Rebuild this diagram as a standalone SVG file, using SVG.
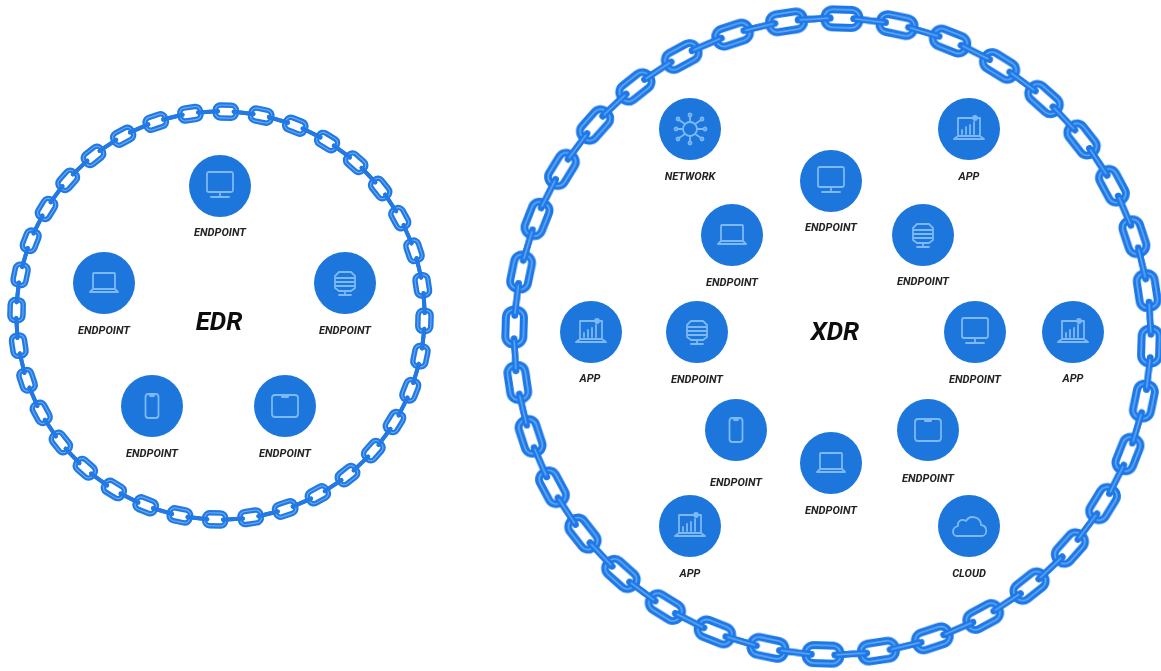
<svg xmlns="http://www.w3.org/2000/svg" width="1161" height="671" viewBox="0 0 1161 671">
<style>
.lo{fill:none;stroke:#1f78e6;stroke-width:8}
.li{fill:none;stroke:#62aaf6;stroke-width:1.600}
.lc{stroke:#1f78e6;stroke-width:6.500;stroke-linecap:round}
.lh{stroke:#62aaf6;stroke-width:1.500;stroke-linecap:round}
.eo{fill:none;stroke:#2279e4;stroke-width:5.500}
.ei{fill:none;stroke:#6aaef6;stroke-width:1.100}
.ec{stroke:#2279e4;stroke-width:4;stroke-linecap:round}
.disc{fill:#1a76dc}
.ic{fill:none;stroke:#7db8f8;stroke-width:1.800;stroke-linecap:round;stroke-linejoin:round}
text{font-family:Roboto,"Liberation Sans",sans-serif;font-weight:700;font-style:italic;text-anchor:middle}
.lb{font-size:11px;fill:#222}
.ti{font-size:26px;fill:#111}
</style>
<defs>
<filter id="soft" x="-5%" y="-5%" width="110%" height="110%"><feGaussianBlur stdDeviation="0.55"/></filter>
<filter id="soft2" x="-5%" y="-5%" width="110%" height="110%"><feGaussianBlur stdDeviation="0.35"/></filter>
<g id="L"><rect class="lo" x="-17.500" y="-9" width="35" height="18" rx="8"/><rect class="li" x="-17.500" y="-9" width="35" height="18" rx="8"/></g>
<g id="C"><line class="lc" x1="-16" y1="0" x2="16" y2="0"/><line class="lh" x1="-14" y1="0" x2="14" y2="0"/></g>
<g id="EL0"><rect class="eo" x="-10.500" y="-6.500" width="21" height="13" rx="5"/><rect class="ei" x="-10.500" y="-6.500" width="21" height="13" rx="5"/></g>
<line id="EC0" class="ec" x1="-10" y1="0" x2="10" y2="0"/>
<g id="monitor"><rect class="ic" x="-13" y="-14" width="26" height="20" rx="2"/><path class="ic" d="M0 6V11M-9 11H9"/></g>
<g id="laptop"><rect class="ic" x="-11" y="-10" width="22" height="16" rx="1"/><path class="ic" d="M-14 9H14M-14 9L-11 6M14 9L11 6"/></g>
<g id="server"><path class="ic" d="M-6 -11H6L10 -7V5L6 8H-6L-10 5V-7ZM-10 -5H10M-10 -1H10M-10 3H10M0 8V12M-6 12H6"/></g>
<g id="phone"><rect class="ic" x="-6.500" y="-12" width="13" height="24" rx="3"/><path class="ic" d="M-2 -10H2"/></g>
<g id="tablet"><rect class="ic" x="-13" y="-11" width="26" height="22" rx="3"/><path class="ic" d="M-3 -11V-9H3V-11"/></g>
<g id="app"><path class="ic" d="M-11 7V-11H11V7M-15 10H15M-15 10L-11 7H11L15 10M-7 5V1M-3 5V-2M1 5V-4M5 5V-7"/><circle class="ic" cx="6" cy="-11" r="2"/></g>
<g id="net"><circle class="ic" cx="0" cy="0" r="7"/><path class="ic" d="M0 -7V-12M0 7V12M-7 0H-12M7 0H13M-5 -5L-11 -9M5 -5L11 -9M-5 5L-11 9M5 5L11 9"/><circle class="ic" cx="0" cy="-14" r="1.500"/><circle class="ic" cx="0" cy="14" r="1.500"/><circle class="ic" cx="-14" cy="0" r="1.500"/><circle class="ic" cx="15" cy="0" r="1.500"/><circle class="ic" cx="-12" cy="-10" r="1.500"/><circle class="ic" cx="12" cy="-10" r="1.500"/><circle class="ic" cx="-12" cy="10" r="1.500"/><circle class="ic" cx="12" cy="10" r="1.500"/></g>
<g id="cloud"><path class="ic" d="M-12 10H12C19 10 19 0 12 -1C12 -9 1 -12 -3 -5C-8 -8 -12 -4 -11 0C-18 2 -17 10 -12 10Z"/></g>
<g id="EL"><use href="#EL0" transform="translate(0,-204)"/><use href="#EC0" transform="rotate(5) translate(0,-204)"/><use href="#EC0" transform="rotate(-5) translate(0,-204)"/></g>
<g id="XL"><use href="#L" transform="translate(0,-318)"/><use href="#C" transform="rotate(5) translate(0,-318)"/><use href="#C" transform="rotate(-5) translate(0,-318)"/></g>
</defs>
<rect width="1161" height="671" fill="#fff"/>
<g id="connectors" filter="url(#soft)">
<g id="edr-chain" transform="translate(220.500,315.500) rotate(1.500)">
<use href="#EL"/><use href="#EL" transform="rotate(10)"/><use href="#EL" transform="rotate(20)"/><use href="#EL" transform="rotate(30)"/><use href="#EL" transform="rotate(40)"/><use href="#EL" transform="rotate(50)"/><use href="#EL" transform="rotate(60)"/><use href="#EL" transform="rotate(70)"/><use href="#EL" transform="rotate(80)"/><use href="#EL" transform="rotate(90)"/><use href="#EL" transform="rotate(100)"/><use href="#EL" transform="rotate(110)"/><use href="#EL" transform="rotate(120)"/><use href="#EL" transform="rotate(130)"/><use href="#EL" transform="rotate(140)"/><use href="#EL" transform="rotate(150)"/><use href="#EL" transform="rotate(160)"/><use href="#EL" transform="rotate(170)"/><use href="#EL" transform="rotate(180)"/><use href="#EL" transform="rotate(190)"/><use href="#EL" transform="rotate(200)"/><use href="#EL" transform="rotate(210)"/><use href="#EL" transform="rotate(220)"/><use href="#EL" transform="rotate(230)"/><use href="#EL" transform="rotate(240)"/><use href="#EL" transform="rotate(250)"/><use href="#EL" transform="rotate(260)"/><use href="#EL" transform="rotate(270)"/><use href="#EL" transform="rotate(280)"/><use href="#EL" transform="rotate(290)"/><use href="#EL" transform="rotate(300)"/><use href="#EL" transform="rotate(310)"/><use href="#EL" transform="rotate(320)"/><use href="#EL" transform="rotate(330)"/><use href="#EL" transform="rotate(340)"/><use href="#EL" transform="rotate(350)"/>
</g>
<g id="xdr-chain" transform="translate(832.500,336.500) rotate(1.700)">
<use href="#XL"/><use href="#XL" transform="rotate(10)"/><use href="#XL" transform="rotate(20)"/><use href="#XL" transform="rotate(30)"/><use href="#XL" transform="rotate(40)"/><use href="#XL" transform="rotate(50)"/><use href="#XL" transform="rotate(60)"/><use href="#XL" transform="rotate(70)"/><use href="#XL" transform="rotate(80)"/><use href="#XL" transform="rotate(90)"/><use href="#XL" transform="rotate(100)"/><use href="#XL" transform="rotate(110)"/><use href="#XL" transform="rotate(120)"/><use href="#XL" transform="rotate(130)"/><use href="#XL" transform="rotate(140)"/><use href="#XL" transform="rotate(150)"/><use href="#XL" transform="rotate(160)"/><use href="#XL" transform="rotate(170)"/><use href="#XL" transform="rotate(180)"/><use href="#XL" transform="rotate(190)"/><use href="#XL" transform="rotate(200)"/><use href="#XL" transform="rotate(210)"/><use href="#XL" transform="rotate(220)"/><use href="#XL" transform="rotate(230)"/><use href="#XL" transform="rotate(240)"/><use href="#XL" transform="rotate(250)"/><use href="#XL" transform="rotate(260)"/><use href="#XL" transform="rotate(270)"/><use href="#XL" transform="rotate(280)"/><use href="#XL" transform="rotate(290)"/><use href="#XL" transform="rotate(300)"/><use href="#XL" transform="rotate(310)"/><use href="#XL" transform="rotate(320)"/><use href="#XL" transform="rotate(330)"/><use href="#XL" transform="rotate(340)"/><use href="#XL" transform="rotate(350)"/>
</g>
</g>
<g filter="url(#soft2)">
<text class="ti" x="219" y="330">EDR</text>
<text class="ti" x="835" y="340">XDR</text>
<g id="edr-1"><circle class="disc" cx="220" cy="186" r="31"/><use href="#monitor" x="220" y="186"/><text class="lb" x="220" y="236">ENDPOINT</text></g>
<g id="edr-2"><circle class="disc" cx="104" cy="283" r="31"/><use href="#laptop" x="104" y="283"/><text class="lb" x="104" y="334">ENDPOINT</text></g>
<g id="edr-3"><circle class="disc" cx="345" cy="283" r="31"/><use href="#server" x="345" y="283"/><text class="lb" x="345" y="334">ENDPOINT</text></g>
<g id="edr-4"><circle class="disc" cx="152" cy="406" r="31"/><use href="#phone" x="152" y="406"/><text class="lb" x="152" y="457">ENDPOINT</text></g>
<g id="edr-5"><circle class="disc" cx="285" cy="406" r="31"/><use href="#tablet" x="285" y="406"/><text class="lb" x="285" y="457">ENDPOINT</text></g>
<g id="xdr-network"><circle class="disc" cx="690" cy="129" r="31"/><use href="#net" x="690" y="129"/><text class="lb" x="690" y="180">NETWORK</text></g>
<g id="xdr-app-1"><circle class="disc" cx="969" cy="129" r="31"/><use href="#app" x="969" y="129"/><text class="lb" x="969" y="180">APP</text></g>
<g id="xdr-ep-1"><circle class="disc" cx="831" cy="181" r="31"/><use href="#monitor" x="831" y="181"/><text class="lb" x="831" y="231">ENDPOINT</text></g>
<g id="xdr-ep-2"><circle class="disc" cx="732" cy="235" r="31"/><use href="#laptop" x="732" y="235"/><text class="lb" x="732" y="286">ENDPOINT</text></g>
<g id="xdr-ep-3"><circle class="disc" cx="923" cy="235" r="31"/><use href="#server" x="923" y="235"/><text class="lb" x="923" y="285">ENDPOINT</text></g>
<g id="xdr-app-2"><circle class="disc" cx="591" cy="332" r="31"/><use href="#app" x="591" y="332"/><text class="lb" x="590" y="382">APP</text></g>
<g id="xdr-ep-4"><circle class="disc" cx="697" cy="332" r="31"/><use href="#server" x="697" y="332"/><text class="lb" x="697" y="383">ENDPOINT</text></g>
<g id="xdr-ep-5"><circle class="disc" cx="975" cy="332" r="31"/><use href="#monitor" x="975" y="332"/><text class="lb" x="975" y="383">ENDPOINT</text></g>
<g id="xdr-app-3"><circle class="disc" cx="1073" cy="332" r="31"/><use href="#app" x="1073" y="332"/><text class="lb" x="1073" y="382">APP</text></g>
<g id="xdr-ep-6"><circle class="disc" cx="736" cy="430" r="31"/><use href="#phone" x="736" y="430"/><text class="lb" x="736" y="486">ENDPOINT</text></g>
<g id="xdr-ep-7"><circle class="disc" cx="928" cy="430" r="31"/><use href="#tablet" x="928" y="430"/><text class="lb" x="928" y="482">ENDPOINT</text></g>
<g id="xdr-ep-8"><circle class="disc" cx="831" cy="463" r="31"/><use href="#laptop" x="831" y="463"/><text class="lb" x="831" y="514">ENDPOINT</text></g>
<g id="xdr-app-4"><circle class="disc" cx="690" cy="526" r="31"/><use href="#app" x="690" y="526"/><text class="lb" x="690" y="577">APP</text></g>
<g id="xdr-cloud"><circle class="disc" cx="969" cy="526" r="31"/><use href="#cloud" x="969" y="526"/><text class="lb" x="969" y="577">CLOUD</text></g>
</g>
</svg>
